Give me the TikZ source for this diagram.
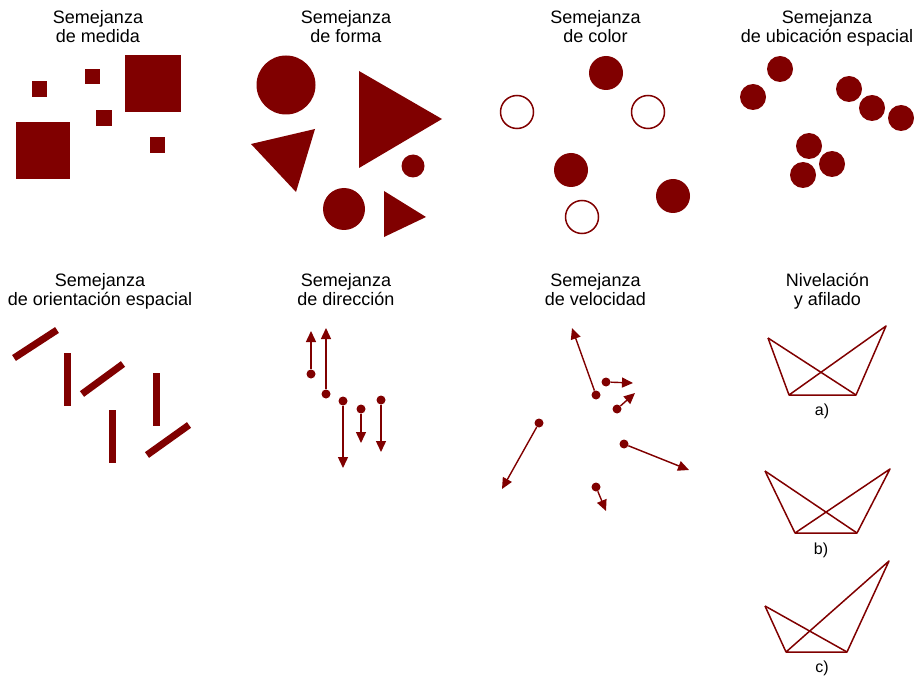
\documentclass[tikz,border=0pt]{standalone}
\usepackage{fontspec}
\setmainfont{Liberation Sans}
\usetikzlibrary{arrows.meta}
\definecolor{simred}{RGB}{128,0,0}

\begin{document}
\begin{tikzpicture}[
    x=1pt, y=-1pt,
    title/.style={font=\fontsize{18}{19.5}\selectfont, align=center, inner sep=0pt, anchor=north},
    blob/.style={fill=simred, draw=none},
    ring/.style={draw=simred, line width=1.5pt},
    bar/.style={draw=simred, line width=7pt},
    dot/.style={circle, fill=simred, inner sep=0pt, minimum size=9pt},
    vec/.style={-{Triangle[length=11pt, width=10pt]}, draw=simred, fill=simred, line width=1.4pt},
    trline/.style={draw=simred, line width=1.5pt, line join=round},
    caption/.style={font=\fontsize{16}{18}\selectfont, inner sep=0pt}
]
\useasboundingbox (0,0) rectangle (917,676);

% --- Row 1: size, shape, colour, location ---
\node[title] (tmedida) at (98,10) {Semejanza\\de medida};
\fill[blob] (32,81) rectangle (47,97);
\fill[blob] (85,69) rectangle (100,84);
\fill[blob] (125,55) rectangle (181,112);
\fill[blob] (96,110) rectangle (112,126);
\fill[blob] (16,122) rectangle (70,179);
\fill[blob] (150,137) rectangle (165,153);

\node[title] (tforma) at (346,10) {Semejanza\\de forma};
\fill[blob] (286,85) circle (29.5);
\fill[blob] (413,166) circle (11.5);
\fill[blob] (344,209) circle (21);
\fill[blob] (359,71) -- (442,119) -- (359,168) -- cycle;
\fill[blob] (251,144) -- (315,129) -- (296,192) -- cycle;
\fill[blob] (384,191) -- (426,217) -- (384,237) -- cycle;

\node[title] (tcolor) at (595.5,10) {Semejanza\\de color};
\fill[blob] (606,73) circle (17);
\fill[blob] (571,170) circle (17);
\fill[blob] (673,196) circle (17);
\draw[ring] (517,112) circle (16.5);
\draw[ring] (648,112) circle (16.5);
\draw[ring] (582,217) circle (16.5);

\node[title] (tubicacion) at (827,10) {Semejanza\\de ubicación espacial};
\foreach \px/\py in {780/69, 753/97, 849/89, 872/108, 901/118, 809/146, 832/164, 803/175}
    \fill[blob] (\px,\py) circle (13);

% --- Row 2: orientation, direction, speed ---
\node[title] (torientacion) at (100,273) {Semejanza\\de orientación espacial};
\draw[bar] (14,358) -- (57,330);
\draw[bar] (67,353) -- (67,406);
\draw[bar] (82,394) -- (123,364);
\draw[bar] (156,373) -- (156,426);
\draw[bar] (112,410) -- (112,463);
\draw[bar] (147,455) -- (189,425);

\node[title] (tdireccion) at (346,273) {Semejanza\\de dirección};
\node[dot] (d1) at (311,374) {};
\node[dot] (d2) at (326,394) {};
\node[dot] (d3) at (343,401) {};
\node[dot] (d4) at (361,409) {};
\node[dot] (d5) at (381,400) {};
\coordinate (e1) at (311,331);
\coordinate (e2) at (326,328);
\coordinate (e3) at (343,468);
\coordinate (e4) at (361,443);
\coordinate (e5) at (381,452);
\foreach \i in {1,...,5}
    \draw[vec] (d\i) -- (e\i);

\node[title] (tvelocidad) at (595.5,273) {Semejanza\\de velocidad};
\node[dot] (v1) at (596,395) {};
\node[dot] (v2) at (606,382) {};
\node[dot] (v3) at (617,409) {};
\node[dot] (v4) at (539,423) {};
\node[dot] (v5) at (624,444) {};
\node[dot] (v6) at (596,487) {};
\coordinate (w1) at (572,328);
\coordinate (w2) at (633,383);
\coordinate (w3) at (635,393);
\coordinate (w4) at (502,489);
\coordinate (w5) at (689,470);
\coordinate (w6) at (606,511);
\foreach \i in {1,...,6}
    \draw[vec] (v\i) -- (w\i);

% --- Column 4: levelling and sharpening ---
\node[title] (tnivelacion) at (827.5,273) {Nivelación\\y afilado};

% a)
\coordinate (aTL) at (768,338);
\coordinate (aTR) at (886,326);
\coordinate (aBL) at (789,395);
\coordinate (aBR) at (856,395);
\draw[trline] (aTL) -- (aBL) -- (aBR) -- (aTR) -- (aBL);
\draw[trline] (aTL) -- (aBR);
\node[caption] (la) at (822,411) {a)};

% b)
\coordinate (bTL) at (765,471);
\coordinate (bTR) at (890,469);
\coordinate (bBL) at (795,533);
\coordinate (bBR) at (857,533);
\draw[trline] (bTL) -- (bBL) -- (bBR) -- (bTR) -- (bBL);
\draw[trline] (bTL) -- (bBR);
\node[caption] (lb) at (821,550) {b)};

% c)
\coordinate (cTL) at (765,606);
\coordinate (cTR) at (889,561);
\coordinate (cBL) at (786,652);
\coordinate (cBR) at (847,652);
\draw[trline] (cTL) -- (cBL) -- (cBR) -- (cTR) -- (cBL);
\draw[trline] (cTL) -- (cBR);
\node[caption] (lc) at (822,668) {c)};

\end{tikzpicture}
\end{document}
